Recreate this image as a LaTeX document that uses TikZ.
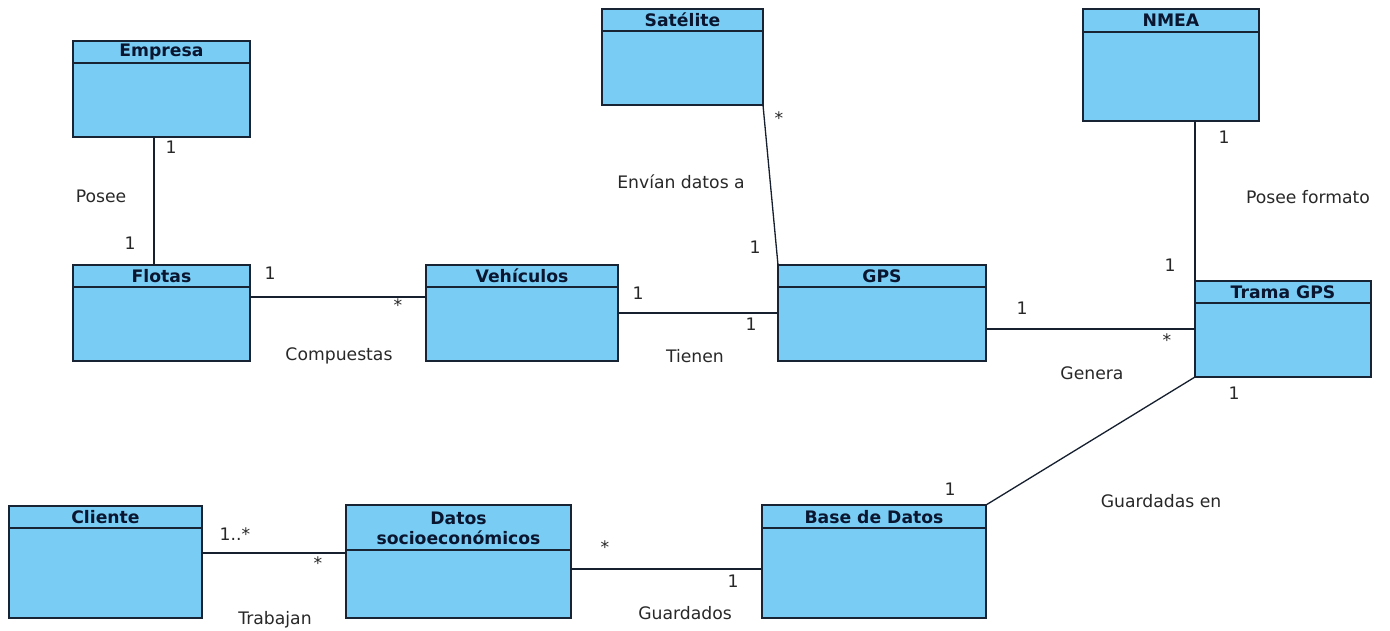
\documentclass[tikz,border=0pt]{standalone}
\usepackage{fontspec}
\setmainfont{DejaVu Sans}
\usetikzlibrary{fit,calc}
\definecolor{clsfill}{RGB}{121,205,244}
\definecolor{clsdraw}{RGB}{24,36,52}
\definecolor{ttlcol}{RGB}{10,22,48}
\definecolor{txtcol}{RGB}{40,40,40}
\tikzset{
  cls/.style={draw=clsdraw,fill=clsfill,line width=0.9pt,inner sep=0pt,outer sep=0pt},
  ttl/.style={font=\fontsize{9.8}{11.5}\selectfont\bfseries,text=ttlcol,align=center,inner sep=0pt},
  lbl/.style={font=\fontsize{9.8}{11.5}\selectfont,text=txtcol,inner sep=0pt},
  link/.style={draw=clsdraw!90!black,line width=0.75pt}
}
\begin{document}
\begin{tikzpicture}[x=0.02cm,y=-0.02cm]
\useasboundingbox (0,0) rectangle (1390,631);
% clases
\node[cls,fit={(73,41) (250,137)}] (empresa) {};
\node[cls,fit={(602,9) (763,105)}] (satelite) {};
\node[cls,fit={(1083,9) (1259,121)}] (nmea) {};
\node[cls,fit={(73,265) (250,361)}] (flotas) {};
\node[cls,fit={(426,265) (618,361)}] (vehiculos) {};
\node[cls,fit={(778,265) (986,361)}] (gps) {};
\node[cls,fit={(1195,281) (1371,377)}] (trama) {};
\node[cls,fit={(9,506) (202,618)}] (cliente) {};
\node[cls,fit={(346,505) (571,618)}] (datos) {};
\node[cls,fit={(762,505) (986,618)}] (base) {};
% lineas de cabecera
\draw[clsdraw,line width=0.9pt] (empresa.west |- 0,63) -- (empresa.east |- 0,63);
\draw[clsdraw,line width=0.9pt] (satelite.west |- 0,31) -- (satelite.east |- 0,31);
\draw[clsdraw,line width=0.9pt] (nmea.west |- 0,32) -- (nmea.east |- 0,32);
\draw[clsdraw,line width=0.9pt] (flotas.west |- 0,287) -- (flotas.east |- 0,287);
\draw[clsdraw,line width=0.9pt] (vehiculos.west |- 0,287) -- (vehiculos.east |- 0,287);
\draw[clsdraw,line width=0.9pt] (gps.west |- 0,287) -- (gps.east |- 0,287);
\draw[clsdraw,line width=0.9pt] (trama.west |- 0,303) -- (trama.east |- 0,303);
\draw[clsdraw,line width=0.9pt] (cliente.west |- 0,528) -- (cliente.east |- 0,528);
\draw[clsdraw,line width=0.9pt] (datos.west |- 0,550) -- (datos.east |- 0,550);
\draw[clsdraw,line width=0.9pt] (base.west |- 0,528) -- (base.east |- 0,528);
% nombres
\node[ttl] (empresa-t) at (empresa.north |- 0,52) {Empresa};
\node[ttl] (satelite-t) at (satelite.north |- 0,20) {Satélite};
\node[ttl] (nmea-t) at (nmea.north |- 0,20) {NMEA};
\node[ttl] (flotas-t) at (flotas.north |- 0,276) {Flotas};
\node[ttl] (vehiculos-t) at (vehiculos.north |- 0,276) {Vehículos};
\node[ttl] (gps-t) at (gps.north |- 0,276) {GPS};
\node[ttl] (trama-t) at (trama.north |- 0,292) {Trama GPS};
\node[ttl] (cliente-t) at (cliente.north |- 0,517) {Cliente};
\node[ttl] (datos-t) at (datos.north |- 0,528) {Datos\\socioeconómicos};
\node[ttl] (base-t) at (base.north |- 0,517) {Base de Datos};
% asociaciones
\draw[link] (empresa.south -| 154,0) -- (flotas.north -| 154,0);
\draw[link] (flotas.east |- 0,297) -- (vehiculos.west |- 0,297);
\draw[link] (vehiculos.east |- 0,313) -- (gps.west |- 0,313);
\draw[link] (satelite.south east) -- (gps.north west);
\draw[link] (gps.east |- 0,329) -- (trama.west |- 0,329);
\draw[link] (nmea.south -| trama.north west) -- (trama.north west);
\draw[link] (trama.south west) -- (base.north east);
\draw[link] (cliente.east |- 0,553) -- (datos.west |- 0,553);
\draw[link] (datos.east |- 0,569) -- (base.west |- 0,569);
% multiplicidades y nombres de asociacion
\node[lbl] (m1) at (171,147) {1};
\node[lbl] (m2) at (130,243) {1};
\node[lbl] (a1) at (101,196) {Posee};
\node[lbl] (m3) at (270,273) {1};
\node[lbl] (m4) at (398,305) {*};
\node[lbl] (a2) at (339,356) {Compuestas};
\node[lbl] (m5) at (638,293) {1};
\node[lbl] (m6) at (751,324) {1};
\node[lbl] (a3) at (695,356) {Tienen};
\node[lbl] (m7) at (779,118) {*};
\node[lbl] (m8) at (755,247) {1};
\node[lbl] (a4) at (681,182) {Envían datos a};
\node[lbl] (m9) at (1022,308) {1};
\node[lbl] (m10) at (1167,340) {*};
\node[lbl] (a5) at (1092,373) {Genera};
\node[lbl] (m11) at (1224,137) {1};
\node[lbl] (m12) at (1170,265) {1};
\node[lbl] (a6) at (1308,197) {Posee formato};
\node[lbl] (m13) at (1234,393) {1};
\node[lbl] (m14) at (950,489) {1};
\node[lbl] (a7) at (1161,501) {Guardadas en};
\node[lbl] (m15) at (235,534) {1..*};
\node[lbl] (m16) at (318,563) {*};
\node[lbl] (a8) at (275,620) {Trabajan};
\node[lbl] (m17) at (605,547) {*};
\node[lbl] (m18) at (733,581) {1};
\node[lbl] (a9) at (685,613) {Guardados};
\end{tikzpicture}
\end{document}
